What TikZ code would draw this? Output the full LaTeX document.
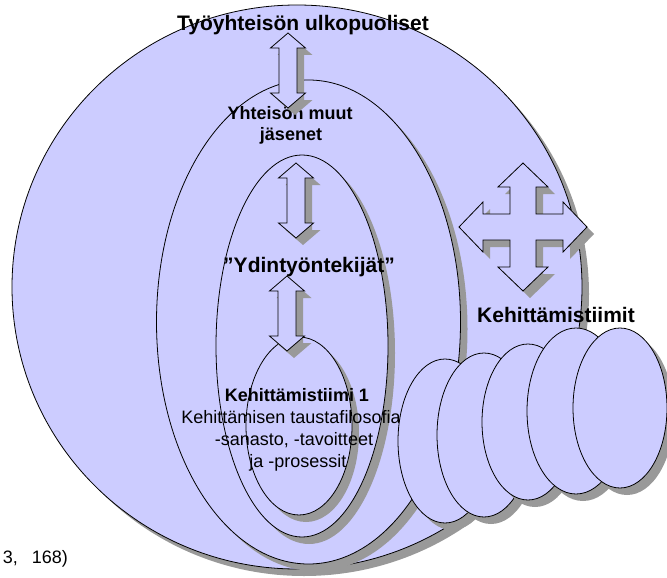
\documentclass[tikz,border=0pt]{standalone}
\usepackage{fontspec}
\setmainfont{Liberation Sans}
\usetikzlibrary{shapes.geometric,shadows}
\definecolor{lav}{RGB}{204,204,255}
\definecolor{shd}{RGB}{153,153,153}
\tikzset{
  shadowed/.style={drop shadow={shadow xshift=7pt, shadow yshift=-7pt, fill=shd, opacity=1}},
  ell/.style={ellipse, draw=black, line width=0.8pt, fill=lav, inner sep=0pt, shadowed},
  blockarrow/.style={draw=black, line width=0.8pt, fill=lav, shadowed, line join=miter},
  bigtext/.style={font=\bfseries\fontsize{21}{25}\selectfont, anchor=base, inner sep=0pt},
  midtext/.style={font=\bfseries\fontsize{18}{22}\selectfont, anchor=base, inner sep=0pt},
  bodytext/.style={font=\fontsize{18}{22}\selectfont, anchor=base, inner sep=0pt},
  vdarrow/.pic={
    \path[blockarrow] (0,-37.5) -- (17.5,-22.5) -- (9,-22.5) -- (9,22.5) -- (17.5,22.5)
      -- (0,37.5) -- (-17.5,22.5) -- (-9,22.5) -- (-9,-22.5) -- (-17.5,-22.5) -- cycle;
  },
  quadarrow/.pic={
    \path[blockarrow] (0,-64) -- (25,-40) -- (13,-40) -- (13,-13) -- (40,-13) -- (40,-25)
      -- (64,0) -- (40,25) -- (40,13) -- (13,13) -- (13,40) -- (25,40) -- (0,64)
      -- (-25,40) -- (-13,40) -- (-13,13) -- (-40,13) -- (-40,25) -- (-64,0)
      -- (-40,-25) -- (-40,-13) -- (-13,-13) -- (-13,-40) -- (-25,-40) -- cycle;
  }
}
\begin{document}
\begin{tikzpicture}[x=1pt,y=-1pt]
\useasboundingbox (0,0) rectangle (667,578);
% nested ellipses
\node[ell, minimum width=570pt, minimum height=564pt] (outer) at (297,287) {};
\node[ell, minimum width=304pt, minimum height=484pt] (middle) at (308.5,322) {};
\node[ell, minimum width=172pt, minimum height=382pt] (core) at (302,346) {};
\node[ell, minimum width=106pt, minimum height=178pt] (team) at (299,426) {};
% texts
\node[bigtext] (tout) at (303,31) {Työyhteisön ulkopuoliset};
\node[midtext] (tmid1) at (290,119) {Yhteisön muut};
\node[midtext] (tmid2) at (291,140) {jäsenet};
\node[bigtext] (tcore) at (309,272) {”Ydintyöntekijät”};
\node[bigtext] (tteams) at (556,322) {Kehittämistiimit};
\node[midtext] (tteam1) at (297,401) {Kehittämistiimi 1};
\node[bodytext] (tl1) at (291,423) {Kehittämisen taustafilosofia};
\node[bodytext] (tl2) at (294,445) {-sanasto, -tavoitteet};
\node[bodytext] (tl3) at (298,467) {ja -prosessit};
\node[bodytext, anchor=base east] (tsrc) at (68,563) {3,\hspace{14pt}168)};
% arrows
\pic (a1) at (288,70.5) {vdarrow};
\pic (a2) at (296,200.5) {vdarrow};
\pic (a3) at (287,313.5) {vdarrow};
\pic (a4) at (523,227) {quadarrow};
% stack of team ellipses
\node[ell, minimum width=94pt, minimum height=164pt] (e1) at (445,441) {};
\node[ell, minimum width=94pt, minimum height=164pt] (e2) at (484,435) {};
\node[ell, minimum width=92pt, minimum height=156pt] (e3) at (528,422) {};
\node[ell, minimum width=98pt, minimum height=166pt] (e4) at (576,411) {};
\node[ell, minimum width=94pt, minimum height=160pt] (e5) at (620,408) {};
\end{tikzpicture}
\end{document}
